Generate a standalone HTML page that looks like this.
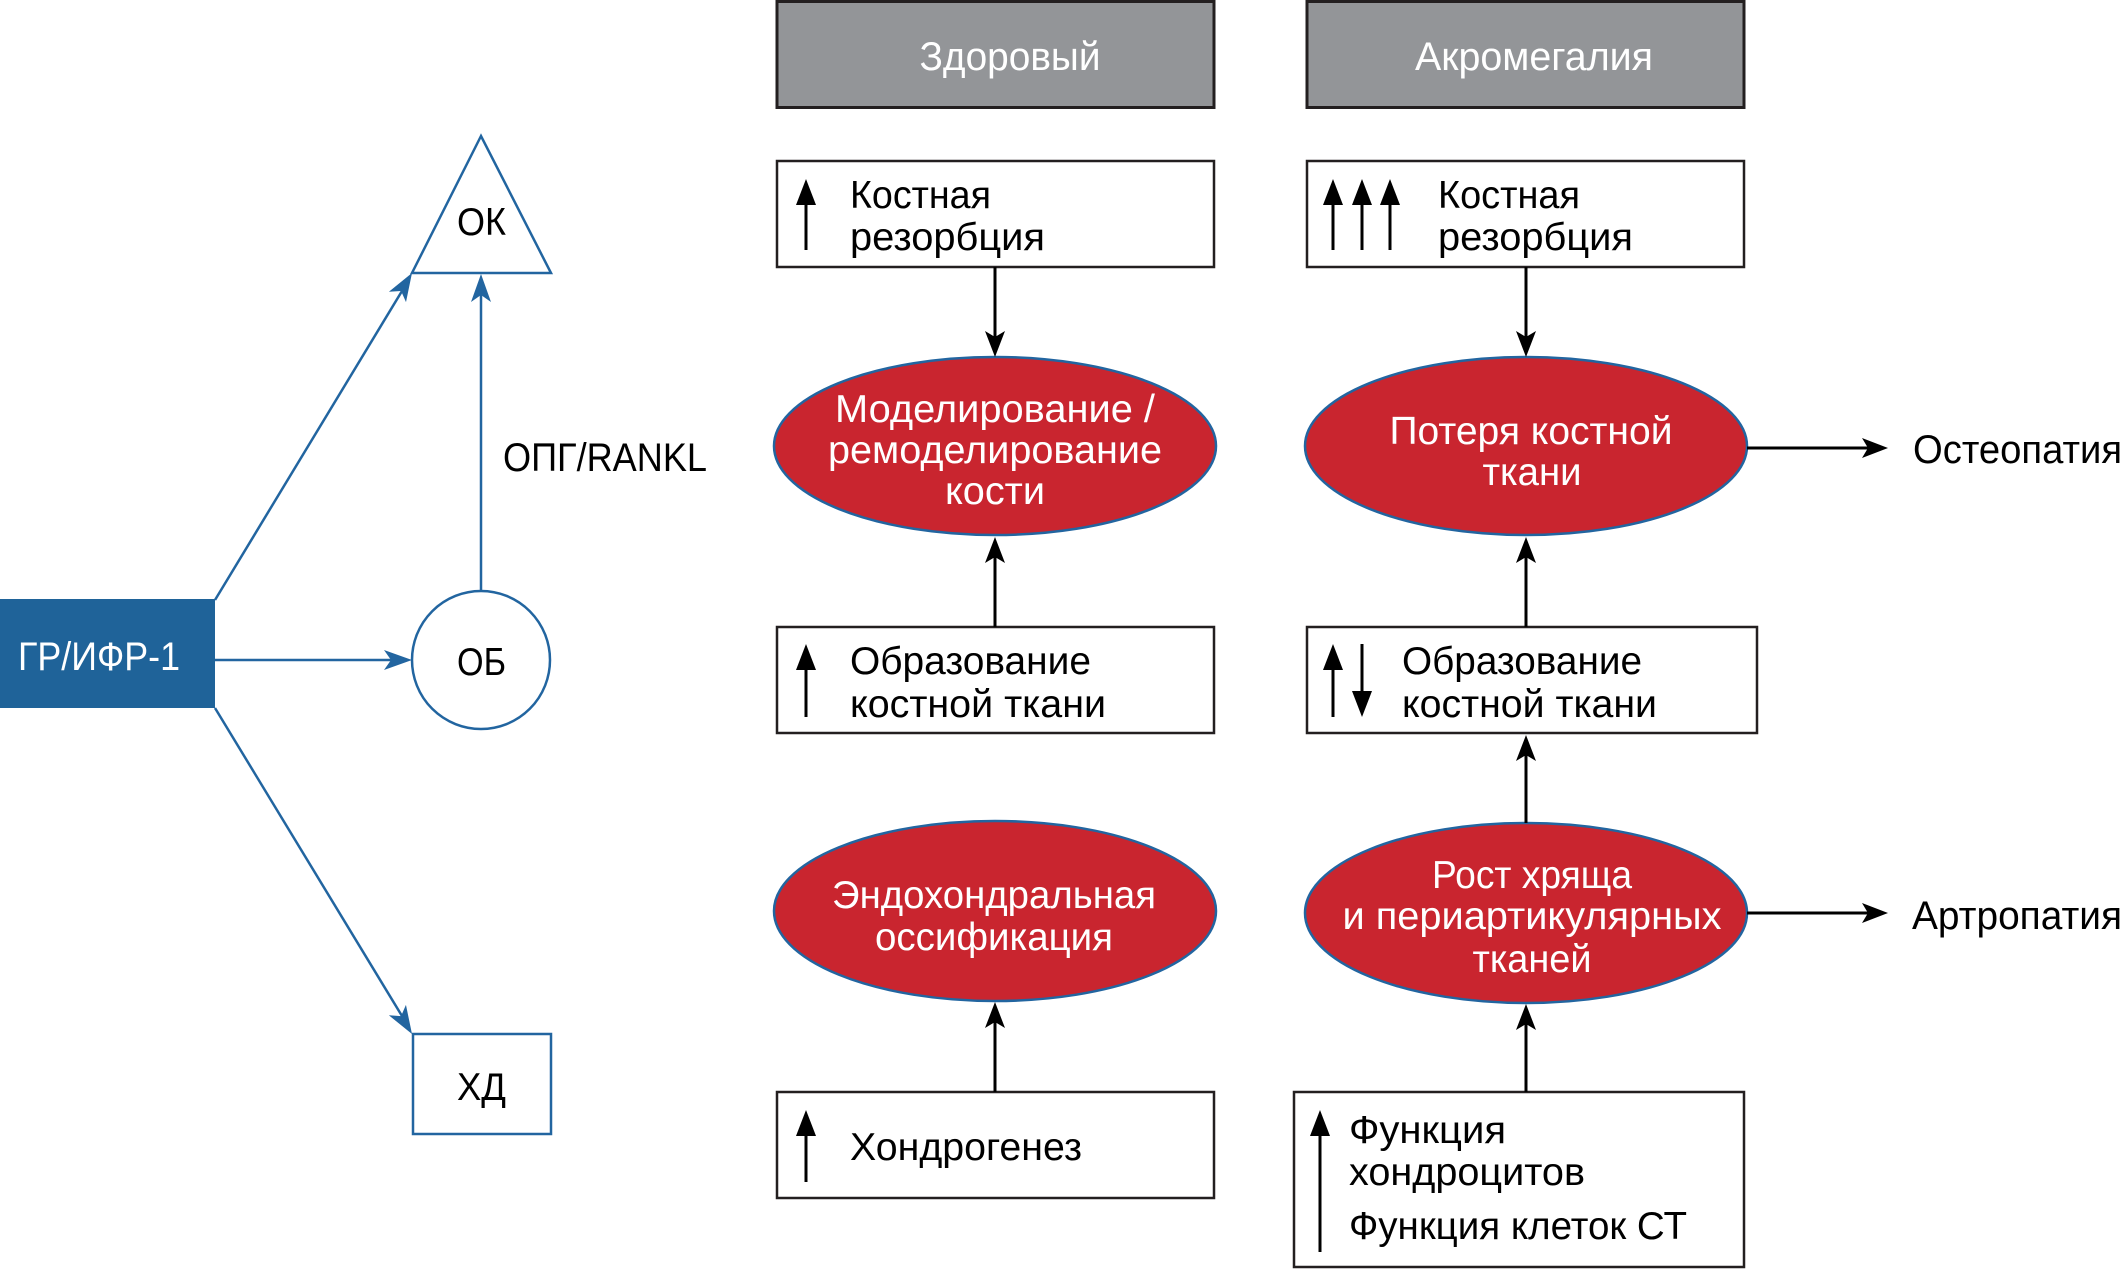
<!DOCTYPE html>
<html>
<head>
<meta charset="utf-8">
<style>
html,body{margin:0;padding:0;background:#fff;}
svg{display:block;}
text{font-family:"Liberation Sans","DejaVu Sans",sans-serif;}
</style>
</head>
<body>
<svg width="2126" height="1269" viewBox="0 0 2126 1269" xmlns="http://www.w3.org/2000/svg">
<rect width="2126" height="1269" fill="#fff"/>

<!-- LEFT PANEL -->
<rect x="0" y="599" width="215" height="109" fill="#1f6399"/>
<text x="18" y="670" font-size="40" fill="#fff" textLength="162" lengthAdjust="spacingAndGlyphs">ГР/ИФР-1</text>

<polygon points="481,136 412,273 551,273" fill="#fff" stroke="#2265a0" stroke-width="2.5"/>
<text x="457" y="235" font-size="39" fill="#000" textLength="49" lengthAdjust="spacingAndGlyphs">ОК</text>

<circle cx="481" cy="660" r="69" fill="#fff" stroke="#2265a0" stroke-width="2.5"/>
<text x="457" y="675" font-size="39" fill="#000" textLength="49" lengthAdjust="spacingAndGlyphs">ОБ</text>

<rect x="413" y="1034" width="138" height="100" fill="#fff" stroke="#2265a0" stroke-width="2.5"/>
<text x="457" y="1100" font-size="39" fill="#000" textLength="49" lengthAdjust="spacingAndGlyphs">ХД</text>

<text x="503" y="471" font-size="40" fill="#000" textLength="204" lengthAdjust="spacingAndGlyphs">ОПГ/RANKL</text>

<!-- blue connectors -->
<g stroke="#2265a0" stroke-width="2.5" fill="none">
  <line x1="215" y1="660" x2="395" y2="660"/>
  <line x1="481" y1="590" x2="481" y2="292"/>
  <line x1="215" y1="600" x2="402" y2="291"/>
  <line x1="215" y1="708" x2="402" y2="1016"/>
</g>
<g fill="#2265a0">
  <path d="M0,0 L-28,-10 L-21,0 L-28,10 Z" transform="translate(412,660)"/>
  <path d="M0,0 L-28,-10 L-21,0 L-28,10 Z" transform="translate(481,274) rotate(-90)"/>
  <path d="M0,0 L-28,-10 L-21,0 L-28,10 Z" transform="translate(412,273) rotate(-58.7)"/>
  <path d="M0,0 L-28,-10 L-21,0 L-28,10 Z" transform="translate(412,1034) rotate(58.6)"/>
</g>

<!-- HEADERS -->
<rect x="777" y="1.5" width="437" height="106" fill="#939598" stroke="#231f20" stroke-width="3"/>
<text x="1010" y="70" font-size="40" fill="#fff" text-anchor="middle" textLength="181" lengthAdjust="spacingAndGlyphs">Здоровый</text>
<rect x="1307" y="1.5" width="437" height="106" fill="#939598" stroke="#231f20" stroke-width="3"/>
<text x="1534" y="70" font-size="40" fill="#fff" text-anchor="middle" textLength="238" lengthAdjust="spacingAndGlyphs">Акромегалия</text>

<!-- MIDDLE COLUMN boxes -->
<g fill="#fff" stroke="#231f20" stroke-width="2.5">
  <rect x="777" y="161" width="437" height="106"/>
  <rect x="777" y="627" width="437" height="106"/>
  <rect x="777" y="1092" width="437" height="106"/>
  <rect x="1307" y="161" width="437" height="106"/>
  <rect x="1307" y="627" width="450" height="106"/>
  <rect x="1294" y="1092" width="450" height="175"/>
</g>

<!-- ellipses -->
<g fill="#c9252f" stroke="#2265a0" stroke-width="2.5">
  <ellipse cx="995" cy="446" rx="221" ry="89"/>
  <ellipse cx="995" cy="911" rx="221" ry="90"/>
  <ellipse cx="1526" cy="446" rx="221" ry="89"/>
  <ellipse cx="1526" cy="913" rx="221" ry="90"/>
</g>

<!-- black connectors -->
<g stroke="#000" stroke-width="3" fill="none">
  <line x1="995" y1="267" x2="995" y2="340"/>
  <line x1="995" y1="627" x2="995" y2="553"/>
  <line x1="995" y1="1092" x2="995" y2="1020"/>
  <line x1="1526" y1="267" x2="1526" y2="340"/>
  <line x1="1526" y1="627" x2="1526" y2="553"/>
  <line x1="1526" y1="823" x2="1526" y2="752"/>
  <line x1="1526" y1="1092" x2="1526" y2="1022"/>
  <line x1="1747" y1="448" x2="1870" y2="448"/>
  <line x1="1747" y1="913" x2="1870" y2="913"/>
</g>
<g fill="#000">
  <path d="M0,0 L-26,-10 L-20,0 L-26,10 Z" transform="translate(995,357) rotate(90)"/>
  <path d="M0,0 L-26,-10 L-20,0 L-26,10 Z" transform="translate(995,537) rotate(-90)"/>
  <path d="M0,0 L-26,-10 L-20,0 L-26,10 Z" transform="translate(995,1002) rotate(-90)"/>
  <path d="M0,0 L-26,-10 L-20,0 L-26,10 Z" transform="translate(1526,357) rotate(90)"/>
  <path d="M0,0 L-26,-10 L-20,0 L-26,10 Z" transform="translate(1526,537) rotate(-90)"/>
  <path d="M0,0 L-26,-10 L-20,0 L-26,10 Z" transform="translate(1526,735) rotate(-90)"/>
  <path d="M0,0 L-26,-10 L-20,0 L-26,10 Z" transform="translate(1526,1004) rotate(-90)"/>
  <path d="M0,0 L-26,-10 L-20,0 L-26,10 Z" transform="translate(1888,448)"/>
  <path d="M0,0 L-26,-10 L-20,0 L-26,10 Z" transform="translate(1888,913)"/>
</g>

<!-- in-box indicator arrows -->
<g stroke="#000" stroke-width="3">
  <line x1="806" y1="200" x2="806" y2="250"/>
  <line x1="806" y1="665" x2="806" y2="717"/>
  <line x1="806" y1="1131" x2="806" y2="1182"/>
  <line x1="1333" y1="200" x2="1333" y2="250"/>
  <line x1="1362" y1="200" x2="1362" y2="250"/>
  <line x1="1390" y1="200" x2="1390" y2="250"/>
  <line x1="1333" y1="665" x2="1333" y2="717"/>
  <line x1="1362" y1="644" x2="1362" y2="696"/>
  <line x1="1320" y1="1131" x2="1320" y2="1252"/>
</g>
<g fill="#000">
  <polygon points="806,179 796,205 816,205"/>
  <polygon points="806,644 796,670 816,670"/>
  <polygon points="806,1110 796,1136 816,1136"/>
  <polygon points="1333,179 1323,205 1343,205"/>
  <polygon points="1362,179 1352,205 1372,205"/>
  <polygon points="1390,179 1380,205 1400,205"/>
  <polygon points="1333,644 1323,670 1343,670"/>
  <polygon points="1362,717 1352,691 1372,691"/>
  <polygon points="1320,1110 1310,1136 1330,1136"/>
</g>

<!-- MIDDLE TEXT -->
<g font-size="39" fill="#000">
  <text x="850" y="208" textLength="141" lengthAdjust="spacingAndGlyphs">Костная</text>
  <text x="850" y="250" textLength="195" lengthAdjust="spacingAndGlyphs">резорбция</text>
  <text x="850" y="674" textLength="241" lengthAdjust="spacingAndGlyphs">Образование</text>
  <text x="850" y="717" textLength="256" lengthAdjust="spacingAndGlyphs">костной ткани</text>
  <text x="850" y="1160" textLength="232" lengthAdjust="spacingAndGlyphs">Хондрогенез</text>

  <text x="1438" y="208" textLength="142" lengthAdjust="spacingAndGlyphs">Костная</text>
  <text x="1438" y="250" textLength="195" lengthAdjust="spacingAndGlyphs">резорбция</text>
  <text x="1402" y="674" textLength="240" lengthAdjust="spacingAndGlyphs">Образование</text>
  <text x="1402" y="717" textLength="255" lengthAdjust="spacingAndGlyphs">костной ткани</text>
  <text x="1349" y="1143" textLength="157" lengthAdjust="spacingAndGlyphs">Функция</text>
  <text x="1349" y="1185" textLength="236" lengthAdjust="spacingAndGlyphs">хондроцитов</text>
  <text x="1349" y="1239" textLength="338" lengthAdjust="spacingAndGlyphs">Функция клеток СТ</text>

  <text x="1913" y="463" font-size="40" textLength="209" lengthAdjust="spacingAndGlyphs">Остеопатия</text>
  <text x="1912" y="929" font-size="40" textLength="210" lengthAdjust="spacingAndGlyphs">Артропатия</text>
</g>

<!-- ELLIPSE TEXT -->
<g font-size="39" fill="#fff" text-anchor="middle">
  <text x="995" y="422" textLength="320" lengthAdjust="spacingAndGlyphs">Моделирование /</text>
  <text x="995" y="463" textLength="334" lengthAdjust="spacingAndGlyphs">ремоделирование</text>
  <text x="995" y="504" textLength="100" lengthAdjust="spacingAndGlyphs">кости</text>

  <text x="994" y="908" textLength="324" lengthAdjust="spacingAndGlyphs">Эндохондральная</text>
  <text x="994" y="950" textLength="238" lengthAdjust="spacingAndGlyphs">оссификация</text>

  <text x="1531" y="444" textLength="283" lengthAdjust="spacingAndGlyphs">Потеря костной</text>
  <text x="1532" y="485" textLength="99" lengthAdjust="spacingAndGlyphs">ткани</text>

  <text x="1532" y="888" textLength="200" lengthAdjust="spacingAndGlyphs">Рост хряща</text>
  <text x="1532" y="929" textLength="379" lengthAdjust="spacingAndGlyphs">и периартикулярных</text>
  <text x="1532" y="972" textLength="119" lengthAdjust="spacingAndGlyphs">тканей</text>
</g>
</svg>
</body>
</html>
